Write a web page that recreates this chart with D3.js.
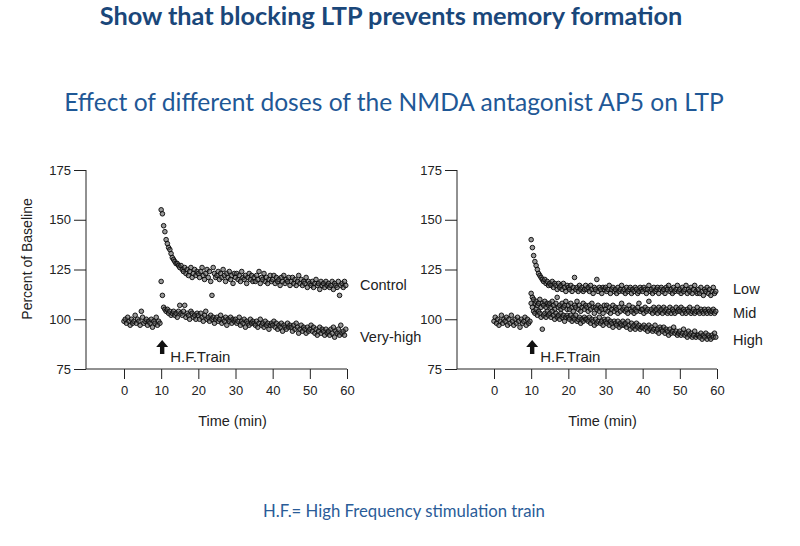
<!DOCTYPE html>
<html><head><meta charset="utf-8">
<script src="https://cdn.jsdelivr.net/npm/d3@7"></script>
<style>body{margin:0;background:#fff}</style></head>
<body>
<svg id="c" width="800" height="546"></svg>
<script>
// ---------- data ----------
const xTicks = [0, 10, 20, 30, 40, 50, 60];
const yTicks = [75, 100, 125, 150, 175];
const sampleStep = 1 / 3;      // minutes between samples
const baselineStart = 0;
const trainStart = 10;

const leftBaseline = [99,100,98,101,99,97,100,98,99,102,98,100,99,97,104,101,98,99,100,97,99,98,100,96,99,98,101,97,99,98];
const control = [
 155,153,147,144,140,138,136,135,133,131,130,129,128,128,127,
 126,127,125,124,126,123,125,122,124,126,121,123,125,122,124,
 123,121,124,126,122,120,123,125,121,124,119,112,126,123,121,
 122,124,120,123,121,125,122,119,123,121,124,120,122,118,123,
 121,123,120,122,119,124,121,120,122,118,121,123,120,122,119,
 121,119,122,120,124,118,121,120,123,119,121,118,120,122,119,
 120,122,118,121,119,120,117,121,119,122,118,120,119,121,117,
 119,121,118,120,117,119,122,118,120,117,119,118,121,116,119,
 118,117,119,116,118,120,117,118,115,119,117,118,116,119,117,
 118,116,117,119,115,118,117,116,119,112,117,118,116,119,117];
const veryHigh = [
 119,112,106,105,104,105,103,104,102,103,104,102,103,101,104,
 107,103,102,104,107,101,103,102,100,104,103,101,102,100,103,
 102,100,103,101,99,102,104,100,101,99,102,100,101,98,100,
 101,99,100,102,98,100,99,101,97,100,99,101,98,100,99,
 100,98,99,101,97,99,98,100,96,99,98,97,100,98,99,
 98,97,99,96,98,100,97,98,96,99,97,98,95,97,98,
 97,99,96,98,95,97,96,98,94,97,96,95,98,96,97,
 96,94,97,95,98,96,93,95,97,94,96,95,93,96,94,
 95,97,94,96,93,95,92,94,96,93,95,94,92,95,93,
 94,92,95,93,96,91,94,93,95,92,97,93,94,92,95];

const rightBaseline = [99,101,98,100,97,99,102,98,100,99,101,97,100,98,102,99,97,100,98,101,99,96,100,98,99,101,97,100,98,99];
const low = [
 140,136,132,129,127,125,123,122,121,120,119,120,118,119,117,
 118,117,119,116,118,117,115,118,116,117,115,118,116,114,117,
 116,115,117,114,116,121,115,116,114,117,115,116,114,115,117,
 115,116,114,117,115,113,116,115,120,114,116,115,113,116,115,
 116,114,115,117,113,115,116,114,115,113,116,114,115,117,114,
 115,113,116,114,115,116,113,115,114,116,115,113,114,116,115,
 114,116,115,113,115,117,114,115,113,116,114,115,116,113,115,
 116,114,115,113,116,115,117,114,115,113,116,114,115,117,114,
 115,113,116,114,115,117,113,115,114,116,113,115,117,114,113,
 115,113,116,114,112,115,114,116,113,115,112,114,116,113,114];
const mid = [
 113,111,110,108,109,107,108,110,106,108,107,109,106,108,107,
 108,106,109,107,105,108,111,106,107,105,108,106,107,109,105,
 107,105,108,106,104,107,106,109,105,107,104,106,108,105,107,
 106,104,107,105,108,106,103,106,105,107,104,106,105,103,107,
 105,107,104,106,103,105,107,104,106,105,103,106,104,108,105,
 106,104,105,103,107,105,104,106,103,105,104,106,108,104,105,
 105,103,106,104,105,109,104,105,103,106,104,105,103,106,104,
 105,103,106,104,105,103,104,106,103,105,104,103,106,104,105,
 104,106,103,105,104,103,105,104,106,103,104,105,103,104,106,
 104,103,105,104,103,105,104,103,105,104,103,104,105,103,104];
const high = [
 108,106,104,103,105,102,104,103,101,95,102,103,101,104,102,
 103,101,104,102,100,103,101,102,100,103,101,102,99,101,102,
 101,100,102,99,101,100,102,99,100,101,98,100,99,101,100,
 100,99,101,98,100,99,97,100,98,99,101,98,99,97,100,
 99,98,100,97,99,98,96,99,98,97,99,96,98,97,99,
 97,98,96,99,97,95,98,96,97,95,98,96,97,95,96,
 96,97,95,96,94,97,95,96,94,95,97,94,95,93,96,
 95,94,96,93,95,94,92,95,93,94,96,93,94,92,93,
 94,92,93,95,92,93,91,94,92,93,91,92,94,91,92,
 92,91,93,90,92,91,93,90,92,91,90,92,91,93,91];

const leftSeries = [
  {name: "Control", values: control},
  {name: "Very-high", values: veryHigh}
];
const rightSeries = [
  {name: "Low", values: low},
  {name: "Mid", values: mid},
  {name: "High", values: high}
];
const titleText = "Show that blocking LTP prevents memory formation";
const subtitleText = "Effect of different doses of the NMDA antagonist AP5 on LTP";
const footText = "H.F.= High Frequency stimulation train";
const yLabelText = "Percent of Baseline";
const xLabelText = "Time (min)";
const trainText = "H.F.Train";

// ---------- drawing ----------
const svg = d3.select("#c");
const axisFont = "'Liberation Sans', Arial, sans-serif";
const ink = "#222";

function fitText(sel, width) {
  const w = sel.node().getComputedTextLength();
  const fs = parseFloat(sel.attr("font-size"));
  sel.attr("font-size", fs * width / w);
}

const t1 = svg.append("text").attr("x", 391).attr("y", 25).attr("text-anchor", "middle")
  .attr("font-family", "Lato, 'Open Sans', sans-serif").attr("font-weight", "bold")
  .attr("font-size", 22).attr("fill", "#1a477a").text(titleText);
fitText(t1, 583);
const t2 = svg.append("text").attr("x", 394).attr("y", 111).attr("text-anchor", "middle")
  .attr("font-family", "Lato, 'Open Sans', sans-serif")
  .attr("font-size", 22).attr("fill", "#1f5896").text(subtitleText);
fitText(t2, 660);
const t3 = svg.append("text").attr("x", 404).attr("y", 517).attr("text-anchor", "middle")
  .attr("font-family", "Lato, 'Open Sans', sans-serif")
  .attr("font-size", 14).attr("fill", "#2a5c98").text(footText);
fitText(t3, 282);

const yScale = d3.scaleLinear().domain([75, 175]).range([369, 170]);

function panel(opt) {
  const x = d3.scaleLinear().domain([0, 60]).range([opt.x0, opt.x1]);
  const g = svg.append("g");

  // y axis
  const ya = g.append("g").attr("transform", `translate(${opt.ax},0)`)
    .call(d3.axisLeft(yScale).tickValues(yTicks).tickSize(12).tickPadding(3).tickSizeOuter(0));
  ya.select(".domain").remove();
  ya.append("line").attr("x1", 0).attr("x2", 0).attr("y1", yScale(175)).attr("y2", yScale(75))
    .attr("stroke", ink);
  ya.selectAll(".tick line").attr("stroke", ink);
  ya.selectAll(".tick text").attr("font-family", axisFont).attr("font-size", 13).attr("fill", ink);

  // x axis
  const xa = g.append("g").attr("transform", `translate(0,${yScale(75)})`)
    .call(d3.axisBottom(x).tickValues(xTicks).tickSize(10).tickPadding(7).tickSizeOuter(0));
  xa.select(".domain").remove();
  xa.append("line").attr("x1", opt.ax).attr("x2", x(60)).attr("y1", 0).attr("y2", 0).attr("stroke", ink);
  xa.selectAll(".tick line").attr("stroke", ink);
  xa.selectAll(".tick text").attr("font-family", axisFont).attr("font-size", 13).attr("fill", ink);

  g.append("text").attr("x", (x(0) + x(60)) / 2 - 3).attr("y", 426).attr("text-anchor", "middle")
    .attr("font-family", axisFont).attr("font-size", 14.5).attr("fill", ink).text(xLabelText);

  // points
  const dot = (data, start) => g.append("g").selectAll("circle").data(data).join("circle")
    .attr("cx", (d, i) => x(start + i * sampleStep))
    .attr("cy", d => yScale(d))
    .attr("r", 2.3)
    .attr("fill", "#555").attr("fill-opacity", 0.6)
    .attr("stroke", "#0d0d0d").attr("stroke-width", 0.95);
  dot(opt.baseline, baselineStart);
  opt.series.forEach(s => dot(s.values, trainStart));

  // series labels
  opt.series.forEach((s, i) => {
    g.append("text").attr("x", opt.labelX).attr("y", opt.labelY[i]).attr("dominant-baseline", "central")
      .attr("font-family", axisFont).attr("font-size", 14.5).attr("fill", ink).text(s.name);
  });

  // H.F. train arrow
  const ax = x(trainStart) + 1;
  g.append("path")
    .attr("d", `M${ax},340 L${ax + 6},347 L${ax + 2.2},347 L${ax + 2.2},354 L${ax - 2.2},354 L${ax - 2.2},347 L${ax - 6},347 Z`)
    .attr("fill", "#111");
  g.append("text").attr("x", ax + 8).attr("y", 356).attr("dominant-baseline", "central")
    .attr("font-family", axisFont).attr("font-size", 15).attr("fill", ink).text(trainText);
}

panel({ax: 86, x0: 124, x1: 347, baseline: leftBaseline, series: leftSeries, labelX: 360, labelY: [285, 337]});
panel({ax: 457, x0: 494, x1: 717, baseline: rightBaseline, series: rightSeries, labelX: 733, labelY: [289, 313, 340]});

svg.append("text").attr("transform", "translate(27,259) rotate(-90)").attr("text-anchor", "middle")
  .attr("dominant-baseline", "central")
  .attr("font-family", axisFont).attr("font-size", 14).attr("fill", ink).text(yLabelText);
</script>
</body></html>
